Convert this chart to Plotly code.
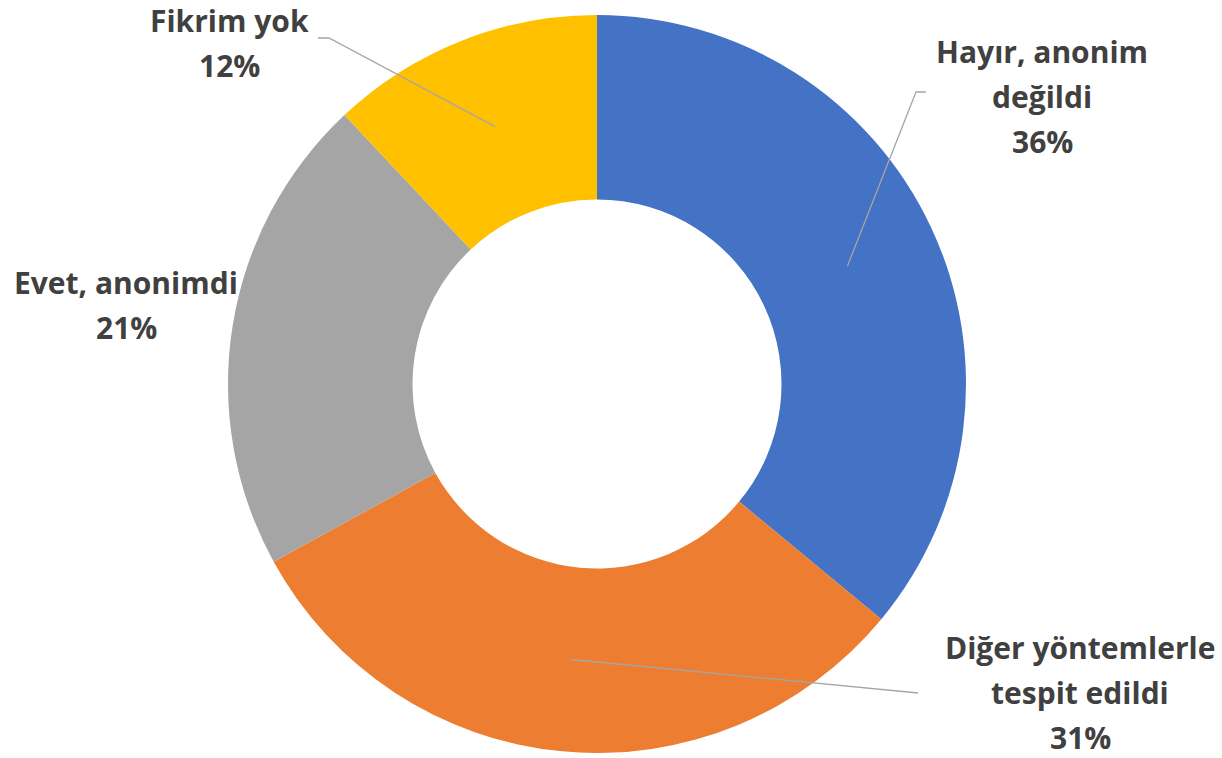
import math
import plotly.graph_objects as go

# ---- data ----
labels = ["Hayır, anonim değildi", "Diğer yöntemlerle tespit edildi", "Evet, anonimdi", "Fikrim yok"]
values = [36, 31, 21, 12]
colors = ["#4472C4", "#ED7D31", "#A5A5A5", "#FFC000"]
label_lines = [["Hayır, anonim", "değildi", "36%"],
               ["Diğer yöntemlerle", "tespit edildi", "31%"],
               ["Evet, anonimdi", "21%"],
               ["Fikrim yok", "12%"]]

# ---- layout geometry (pixels) ----
W, H = 1222, 758
cx, cy, R = 597, 384, 369
hole = 0.5
label_centers = [(1042, 96), (1080, 692), (126, 305), (229, 43)]
# leader line elbow and end points (None => no leader)
leaders = [((916, 92), (926, 92)),
           ((908, 692), (918, 693)),
           None,
           ((329, 38), (318, 38))]
line_gap = 45
font_family = "Open Sans"
font_size = 30
text_color = "#404040"

fig = go.Figure()
fig.add_trace(go.Pie(
    labels=labels, values=values, hole=hole, sort=False, direction="clockwise",
    rotation=0, textinfo="none", showlegend=False,
    marker=dict(colors=colors, line=dict(width=0)),
    domain=dict(x=[(cx - R) / W, (cx + R) / W], y=[(H - cy - R) / H, (H - cy + R) / H]),
))
# invisible trace to establish the overlay axes
fig.add_trace(go.Scatter(x=[0, W], y=[0, H], mode="markers", marker=dict(opacity=0),
                         hoverinfo="skip", showlegend=False))

total = sum(values)
cum = 0
rmid = R * (1 + hole) / 2
for i, v in enumerate(values):
    mid = (cum + v / 2) / total * 2 * math.pi
    cum += v
    if leaders[i] is None:
        continue
    tx, ty = cx + rmid * math.sin(mid), cy - rmid * math.cos(mid)
    (ex, ey), (fx, fy) = leaders[i]
    fig.add_shape(type="path", path=f"M {tx},{ty} L {ex},{ey} L {fx},{fy}",
                  xref="x", yref="y", layer="above",
                  line=dict(color="#A6A6A6", width=1.3))

for lines, (lx, ly) in zip(label_lines, label_centers):
    n = len(lines)
    for j, t in enumerate(lines):
        fig.add_annotation(x=lx, y=ly + (j - (n - 1) / 2) * line_gap, xref="x", yref="y",
                           text=f"<b>{t}</b>", showarrow=False, xanchor="center", yanchor="middle",
                           borderpad=0,
                           font=dict(family=font_family, size=font_size, color=text_color))

fig.update_layout(
    width=W, height=H, margin=dict(l=0, r=0, t=0, b=0),
    paper_bgcolor="white", plot_bgcolor="rgba(0,0,0,0)",
    xaxis=dict(range=[0, W], visible=False, fixedrange=True),
    yaxis=dict(range=[H, 0], visible=False, fixedrange=True),
)
fig.write_html("out.html", config={"displayModeBar": False},
               post_script="document.body.style.margin='0';")
